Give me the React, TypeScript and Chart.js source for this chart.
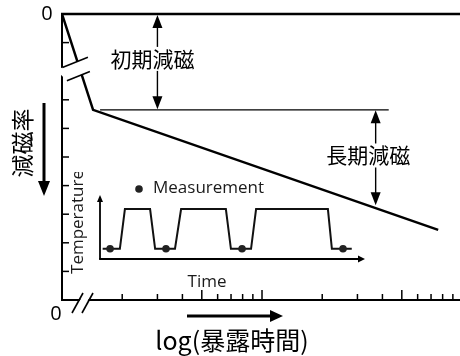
import React, { useEffect, useRef } from "react";
import { Chart, registerables } from "chart.js";

Chart.register(...registerables);

// ---------- main chart data ----------
// x: exposure time (log scale), y: demagnetization rate (0 at top, grows downward)
const curveTimes = [1, 1.43, 76];
const curveRates = [0, 3.35, 7.55];
const refLineTimes = [1.55, 43];
const refLineRate = 3.35;
const initialArrowTime = 3;
const longArrowTime = 37;
const xMinorTicks = [2, 3, 4, 6, 7, 8, 9, 20, 30, 40, 60, 70, 80, 90];
const xMajorTicks = [5, 10, 50];
const yTicks = [1, 2, 3, 4, 5, 6, 7, 8, 9];
const xRange = [1, 97.7];
const yRange = [0, 10];
const yTitle = "減磁率";
const xTitle = "log(暴露時間)";
const initialLabel = "初期減磁";
const longLabel = "長期減磁";
const zeroLabel = "0";

// ---------- inset data ----------
const tempTimes = [1, 7.5, 9.4, 18.9, 20.8, 28.3, 30.6, 47.5, 49.4, 57, 58.9, 86, 87.5, 95];
const tempLevels = [16, 16, 78, 78, 16, 16, 78, 78, 16, 16, 78, 78, 16, 16];
const measureTimes = [3.8, 24.9, 53.6, 91.7];
const measureLevels = [16, 16, 16, 16];
const insetXLabel = "Time";
const insetYLabel = "Temperature";
const insetLegend = "Measurement";

const CJK = '"Noto Sans CJK JP", "Noto Sans", sans-serif';
const LATIN = '"Open Sans", "Noto Sans", sans-serif';

function line(ctx: CanvasRenderingContext2D, x1: number, y1: number, x2: number, y2: number) {
  ctx.beginPath();
  ctx.moveTo(x1, y1);
  ctx.lineTo(x2, y2);
  ctx.stroke();
}

function head(ctx: CanvasRenderingContext2D, x: number, y: number, dir: string, w: number, h: number) {
  ctx.beginPath();
  if (dir === "up") {
    ctx.moveTo(x, y); ctx.lineTo(x - w / 2, y + h); ctx.lineTo(x + w / 2, y + h);
  } else if (dir === "down") {
    ctx.moveTo(x, y); ctx.lineTo(x - w / 2, y - h); ctx.lineTo(x + w / 2, y - h);
  } else {
    ctx.moveTo(x, y); ctx.lineTo(x - h, y - w / 2); ctx.lineTo(x - h, y + w / 2);
  }
  ctx.closePath();
  ctx.fill();
}

const mainDecor = {
  id: "mainDecor",
  afterDatasetsDraw(chart: any) {
    const ctx: CanvasRenderingContext2D = chart.ctx;
    const xs = chart.scales.x;
    const ys = chart.scales.y;
    const X = (v: number) => xs.getPixelForValue(v);
    const Y = (v: number) => ys.getPixelForValue(v);
    const { left, right, top, bottom } = chart.chartArea;
    ctx.save();
    ctx.strokeStyle = "#000";
    ctx.fillStyle = "#000";
    ctx.lineCap = "butt";

    // rate = 0 line at top
    ctx.lineWidth = 2.5;
    line(ctx, left - 1, Y(0), right, Y(0));
    // axes
    ctx.lineWidth = 2;
    line(ctx, left, top, left, bottom + 1);
    line(ctx, left - 1, bottom, right, bottom);
    // y ticks (inward)
    ctx.lineWidth = 1.5;
    yTicks.forEach((v) => line(ctx, left, Y(v), left + 7, Y(v)));
    // x ticks (inward)
    xMinorTicks.forEach((v) => line(ctx, X(v), bottom, X(v), bottom - 6));
    xMajorTicks.forEach((v) => line(ctx, X(v), bottom, X(v), bottom - 10));

    // break on the steep segment / y axis
    const ax = X(curveTimes[0]), ay = Y(curveRates[0]);
    const bx = X(curveTimes[1]), by = Y(curveRates[1]);
    const f = 0.56;
    const px = ax + (bx - ax) * f, py = ay + (by - ay) * f;
    ctx.fillStyle = "#fff";
    ctx.beginPath();
    ctx.moveTo(px - 20, py + 1.2);
    ctx.lineTo(px + 8.5, py - 10.5);
    ctx.lineTo(px + 10.5, py + 3.8);
    ctx.lineTo(px - 12.5, py + 13);
    ctx.lineTo(px - 20, py + 5.5);
    ctx.closePath();
    ctx.fill();
    ctx.fillStyle = "#000";
    ctx.lineWidth = 1.6;
    line(ctx, px - 17, py - 0.1, px + 8.5, py - 10.5);
    line(ctx, px - 12.5, py + 13, px + 10.5, py + 3.8);

    // break on x axis
    const s1 = left + 15.5, s2 = left + 25.5, sy = bottom + 3;
    ctx.fillStyle = "#fff";
    ctx.beginPath();
    ctx.moveTo(s1 + 1 - 2.2, sy + 4);
    ctx.lineTo(s2 - 1 - 2.2, sy + 4);
    ctx.lineTo(s2 - 1 + 2.2, sy - 4);
    ctx.lineTo(s1 + 1 + 2.2, sy - 4);
    ctx.closePath();
    ctx.fill();
    ctx.fillStyle = "#000";
    ctx.lineWidth = 1.6;
    line(ctx, s1 - 5.5, sy + 10, s1 + 5.5, sy - 10);
    line(ctx, s2 - 5.5, sy + 10, s2 + 5.5, sy - 10);

    // initial demagnetization arrow
    const ix = X(initialArrowTime);
    const y0 = Y(0), yr = Y(refLineRate);
    ctx.lineWidth = 1.4;
    line(ctx, ix, y0 + 10, ix, yr - 10);
    head(ctx, ix, y0 + 1, "up", 10, 13);
    head(ctx, ix, yr - 0.5, "down", 10, 13);
    ctx.font = `21px ${CJK}`;
    ctx.textAlign = "center";
    ctx.textBaseline = "middle";
    let tw = ctx.measureText(initialLabel).width;
    let tcx = ix - 5, tcy = (y0 + yr) / 2 - 3;
    ctx.fillStyle = "#fff";
    ctx.fillRect(tcx - tw / 2 - 2, tcy - 12, tw + 4, 24);
    ctx.fillStyle = "#000";
    ctx.fillText(initialLabel, tcx, tcy);

    // long-term demagnetization arrow
    const lx = X(longArrowTime);
    const cx1 = X(curveTimes[1]), cy1 = Y(curveRates[1]);
    const cx2 = X(curveTimes[2]), cy2 = Y(curveRates[2]);
    const ly = cy1 + (cy2 - cy1) * ((lx - cx1) / (cx2 - cx1)) - 3;
    line(ctx, lx, yr + 10, lx, ly - 10);
    head(ctx, lx, yr + 0.5, "up", 10, 13);
    head(ctx, lx, ly, "down", 10, 13);
    tw = ctx.measureText(longLabel).width;
    tcx = lx - 7.5;
    tcy = (yr + ly) / 2 - 2;
    ctx.fillStyle = "#fff";
    ctx.fillRect(tcx - tw / 2 - 2, tcy - 12, tw + 4, 24);
    ctx.fillStyle = "#000";
    ctx.fillText(longLabel, tcx, tcy);

    // zero labels
    ctx.font = `20px ${LATIN}`;
    ctx.fillText(zeroLabel, left - 15, top);
    ctx.fillText(zeroLabel, left - 6, bottom + 14);

    // y title + arrow
    ctx.save();
    ctx.translate(22, 143);
    ctx.rotate(-Math.PI / 2);
    ctx.font = `23px ${CJK}`;
    ctx.fillText(yTitle, 0, 0);
    ctx.restore();
    ctx.lineWidth = 3;
    line(ctx, 44, 103, 44, 184);
    head(ctx, 44, 196, "down", 12, 15);

    // x title + arrow
    ctx.font = `25px ${CJK}`;
    ctx.fillText(xTitle, 232, 340);
    line(ctx, 187, 316, 272, 316);
    head(ctx, 283, 316, "right", 12, 13);

    ctx.restore();
  },
};

const insetDecor = {
  id: "insetDecor",
  beforeDatasetsDraw(chart: any) {
    const ctx: CanvasRenderingContext2D = chart.ctx;
    const { left, right, top, bottom } = chart.chartArea;
    ctx.save();
    ctx.strokeStyle = "#000";
    ctx.fillStyle = "#000";
    ctx.lineWidth = 1.8;
    line(ctx, left, bottom, left, top + 5);
    line(ctx, left - 0.9, bottom, right - 5, bottom);
    head(ctx, left, top, "up", 6, 7);
    head(ctx, right, bottom, "right", 7, 7);

    ctx.textBaseline = "middle";
    ctx.font = `17px ${LATIN}`;
    ctx.fillStyle = "#1a1a1a";
    // y label
    ctx.save();
    ctx.translate(left - 22, (top + bottom) / 2 - 5);
    ctx.rotate(-Math.PI / 2);
    ctx.textAlign = "center";
    ctx.fillText(insetYLabel, 0, 0);
    ctx.restore();
    // x label
    ctx.textAlign = "center";
    ctx.fillText(insetXLabel, left + 107, bottom + 23);
    // legend
    ctx.beginPath();
    ctx.fillStyle = "#222";
    ctx.arc(left + 39, top - 6, 3.8, 0, Math.PI * 2);
    ctx.fill();
    ctx.fillStyle = "#1a1a1a";
    ctx.textAlign = "left";
    ctx.fillText(insetLegend, left + 53, top - 7);
    ctx.restore();
  },
};

export default function App() {
  const mainRef = useRef<HTMLCanvasElement>(null);
  const insetRef = useRef<HTMLCanvasElement>(null);

  useEffect(() => {
    const main = new Chart(mainRef.current as HTMLCanvasElement, {
      type: "line",
      data: {
        datasets: [
          {
            data: curveTimes.map((t, i) => ({ x: t, y: curveRates[i] })),
            borderColor: "#000",
            borderWidth: 2.5,
            pointRadius: 0,
            tension: 0,
            fill: false,
          },
          {
            data: refLineTimes.map((t) => ({ x: t, y: refLineRate })),
            borderColor: "#000",
            borderWidth: 1.2,
            pointRadius: 0,
            tension: 0,
            fill: false,
          },
        ],
      },
      options: {
        animation: false,
        responsive: false,
        devicePixelRatio: 1,
        events: [],
        layout: { padding: { left: 62, top: 14, right: 0, bottom: 56 } },
        plugins: { legend: { display: false }, tooltip: { enabled: false } },
        scales: {
          x: { type: "logarithmic", min: xRange[0], max: xRange[1], display: false },
          y: { type: "linear", reverse: true, min: yRange[0], max: yRange[1], display: false },
        },
      },
      plugins: [mainDecor],
    } as any);

    const inset = new Chart(insetRef.current as HTMLCanvasElement, {
      type: "line",
      data: {
        datasets: [
          {
            data: measureTimes.map((t, i) => ({ x: t, y: measureLevels[i] })),
            showLine: false,
            pointRadius: 3.8,
            pointBackgroundColor: "#222",
            pointBorderWidth: 0,
            borderColor: "#222",
          },
          {
            data: tempTimes.map((t, i) => ({ x: t, y: tempLevels[i] })),
            borderColor: "#111",
            borderWidth: 2,
            pointRadius: 0,
            tension: 0,
            fill: false,
          },
        ],
      },
      options: {
        animation: false,
        responsive: false,
        devicePixelRatio: 1,
        events: [],
        layout: { padding: { left: 36, top: 23, right: 9, bottom: 35 } },
        plugins: { legend: { display: false }, tooltip: { enabled: false } },
        scales: {
          x: { type: "linear", min: 0, max: 100, display: false },
          y: { type: "linear", min: 0, max: 100, display: false },
        },
      },
      plugins: [insetDecor],
    } as any);

    return () => {
      main.destroy();
      inset.destroy();
    };
  }, []);

  return (
    <div style={{ position: "fixed", left: 0, top: 0, width: 460, height: 356, background: "#fff" }}>
      <canvas ref={mainRef} width={460} height={356} style={{ position: "absolute", left: 0, top: 0, width: 460, height: 356 }} />
      <canvas ref={insetRef} width={310} height={122} style={{ position: "absolute", left: 64, top: 172, width: 310, height: 122 }} />
    </div>
  );
}
